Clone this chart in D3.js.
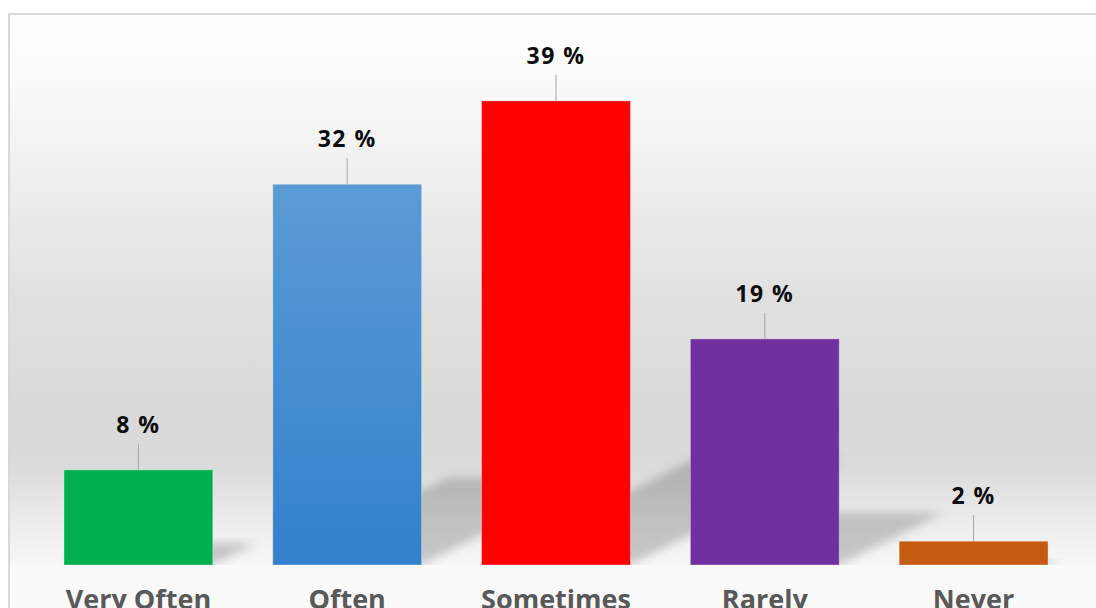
<!DOCTYPE html>
<html>
<head>
<meta charset="utf-8">
<script src="https://cdn.jsdelivr.net/npm/d3@7"></script>
<style>
    html, body { margin: 0; padding: 0; background: #ffffff; }
    #chart { width: 1096px; height: 608px; overflow: hidden; }
    .value-label { font-family: "Open Sans", sans-serif; font-weight: 700; font-size: 23px; fill: #0d0d0d; letter-spacing: 1.5px; }
    .cat-label { font-family: "Open Sans", sans-serif; font-weight: 700; font-size: 27px; fill: #595959; }
</style>
</head>
<body>
<div id="chart"></div>
<script>
const categories = ["Very Often", "Often", "Sometimes", "Rarely", "Never"];
const percents = [8, 32, 39, 19, 2];
const barColors = ["#00B050", "url(#blue-grad)", "#FF0000", "#7030A0", "#C55A11"];

document.addEventListener('DOMContentLoaded', function() {
    const W = 1096, H = 608;
    const baseY = 565, plotTop = 15;

    const svg = d3.select("#chart").append("svg")
        .attr("width", W)
        .attr("height", H);

    const defs = svg.append("defs");

    const bg = defs.append("linearGradient")
        .attr("id", "plot-bg")
        .attr("x1", "0%").attr("y1", "0%")
        .attr("x2", "0%").attr("y2", "100%");
    [[0, "#ffffff"], [0.12, "#fafafa"], [0.34, "#ececec"], [0.52, "#e0e0e0"],
     [0.74, "#d9d9d9"], [0.83, "#dcdcdc"], [0.92, "#ececec"], [1, "#f7f7f7"]]
        .forEach(s => bg.append("stop").attr("offset", s[0]).attr("stop-color", s[1]));

    const blue = defs.append("linearGradient")
        .attr("id", "blue-grad")
        .attr("x1", "0%").attr("y1", "0%")
        .attr("x2", "0%").attr("y2", "100%");
    blue.append("stop").attr("offset", "0%").attr("stop-color", "#5B9BD5");
    blue.append("stop").attr("offset", "100%").attr("stop-color", "#3380CC");

    defs.append("filter")
        .attr("id", "soft")
        .attr("x", "-20%").attr("y", "-20%")
        .attr("width", "140%").attr("height", "140%")
        .append("feGaussianBlur").attr("stdDeviation", 5);

    defs.append("clipPath").attr("id", "plot-clip")
        .append("rect")
        .attr("x", 10).attr("y", plotTop)
        .attr("width", W).attr("height", baseY - plotTop);

    // chart area + border
    svg.append("rect")
        .attr("x", 9).attr("y", 14)
        .attr("width", W + 20).attr("height", H + 40)
        .attr("fill", "#fafafa")
        .attr("stroke", "#d9d9d9")
        .attr("stroke-width", 2);

    // plot area
    svg.append("rect")
        .attr("x", 10).attr("y", plotTop)
        .attr("width", W).attr("height", baseY - plotTop)
        .attr("fill", "url(#plot-bg)");

    const x = d3.scaleBand()
        .domain(categories)
        .range([34, 1078])
        .paddingInner(0.287)
        .paddingOuter(0.1435);

    const y = d3.scaleLinear()
        .domain([0, 40])
        .range([baseY, baseY - 40 * 11.9]);

    const rows = categories.map((c, i) => ({ cat: c, value: percents[i], color: barColors[i] }));

    // perspective shadows falling up-right behind the bars
    svg.append("g")
        .attr("clip-path", "url(#plot-clip)")
        .selectAll("path")
        .data(rows)
        .join("path")
        .attr("d", d => {
            const x0 = x(d.cat), x1 = x0 + x.bandwidth();
            const h = baseY - y(d.value);
            const dx = h * 0.46, dy = h * 0.23;
            return `M${x0},${baseY}L${x1},${baseY}L${x1 + dx},${baseY - dy}L${x0 + dx},${baseY - dy}Z`;
        })
        .attr("fill", "#000")
        .attr("fill-opacity", 0.19)
        .attr("filter", "url(#soft)");

    svg.append("g")
        .selectAll("rect")
        .data(rows)
        .join("rect")
        .attr("x", d => x(d.cat))
        .attr("y", d => y(d.value))
        .attr("width", x.bandwidth())
        .attr("height", d => baseY - y(d.value))
        .attr("fill", d => d.color)
        .attr("stroke", "#ffffff")
        .attr("stroke-opacity", 0.35)
        .attr("stroke-width", 1);

    // leader lines
    svg.append("g")
        .selectAll("line")
        .data(rows)
        .join("line")
        .attr("x1", d => x(d.cat) + x.bandwidth() / 2)
        .attr("x2", d => x(d.cat) + x.bandwidth() / 2)
        .attr("y1", d => y(d.value) - 26)
        .attr("y2", d => y(d.value))
        .attr("stroke", "#a6a6a6")
        .attr("stroke-width", 1);

    svg.append("g")
        .selectAll("text")
        .data(rows)
        .join("text")
        .attr("class", "value-label")
        .attr("x", d => x(d.cat) + x.bandwidth() / 2)
        .attr("y", d => y(d.value) - 37)
        .attr("text-anchor", "middle")
        .text(d => `${d.value} %`);

    svg.append("g")
        .selectAll("text")
        .data(rows)
        .join("text")
        .attr("class", "cat-label")
        .attr("x", d => x(d.cat) + x.bandwidth() / 2)
        .attr("y", 609)
        .attr("text-anchor", "middle")
        .text(d => d.cat);
});
</script>
</body>
</html>
